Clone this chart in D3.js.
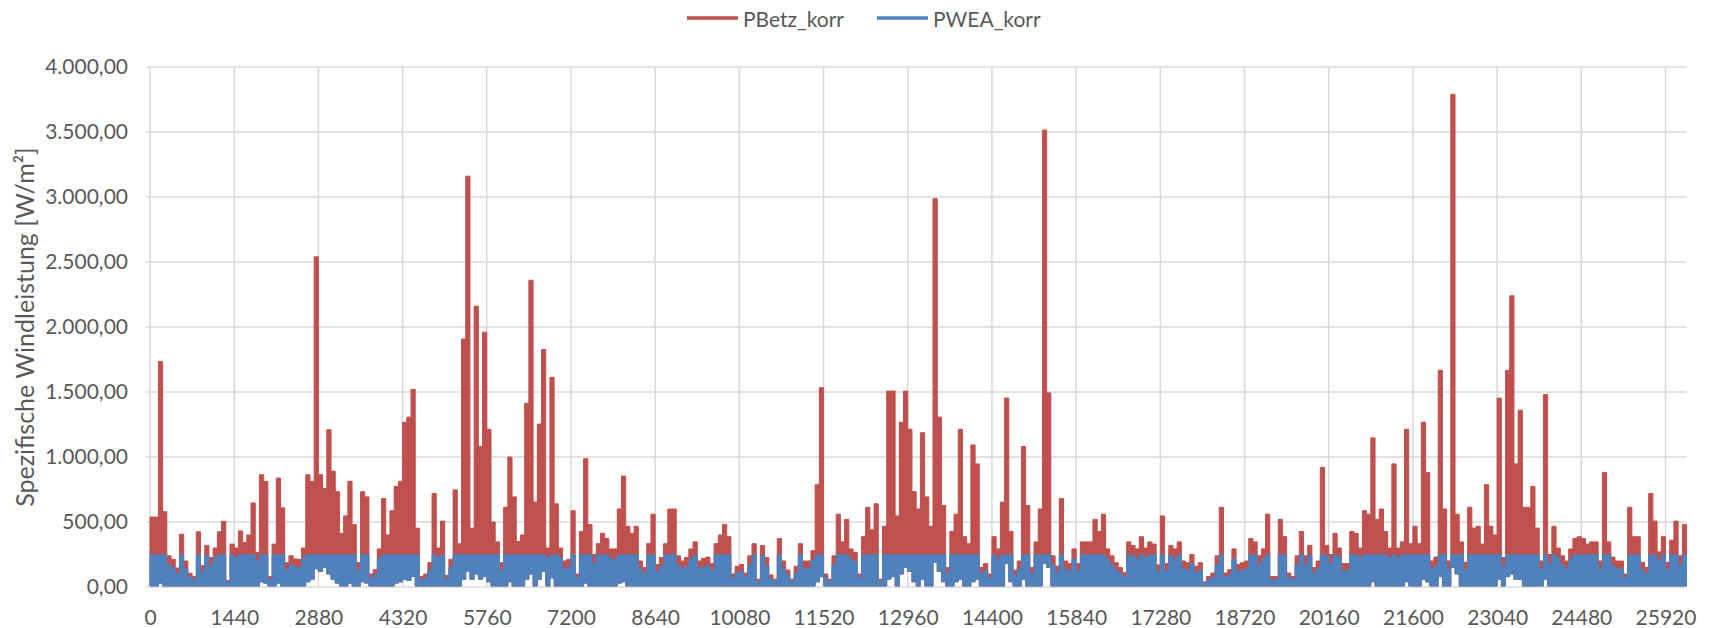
<!doctype html>
<html>
<head>
<meta charset="utf-8">
<script src="https://d3js.org/d3.v7.min.js"></script>
<style>
  body { margin: 0; background: #fff; }
  svg text { font-family: Lato, "Open Sans", sans-serif; fill: #595959; }
</style>
</head>
<body>
<svg width="1717" height="628"></svg>
<script>
// series / legend
var seriesNames = ["PBetz_korr", "PWEA_korr"];
var seriesColors = ["#C0504D", "#4F81BD"];

// x categories: 0 .. 26279, labelled every 1440
var pointCount = 26280;
var binSize = 72;
var xTickValues = [0, 1440, 2880, 4320, 5760, 7200, 8640, 10080, 11520, 12960,
                   14400, 15840, 17280, 18720, 20160, 21600, 23040, 24480, 25920];
var yTickValues = [0, 500, 1000, 1500, 2000, 2500, 3000, 3500, 4000];

// per block of 72 points: highest PBetz value
var pBetzMax = [
  538, 538, 1734, 579, 240, 213, 146, 406, 200, 106,
  80, 425, 165, 320, 226, 300, 425, 505, 50, 330,
  300, 431, 343, 400, 647, 266, 863, 812, 80, 330,
  838, 609, 186, 240, 216, 213, 300, 863, 812, 2540,
  864, 758, 1210, 891, 733, 413, 547, 813, 480, 187,
  733, 693, 100, 133, 293, 680, 400, 587, 773, 813,
  1267, 1307, 1520, 453, 80, 100, 187, 720, 300, 507,
  90, 213, 747, 333, 1907, 3160, 453, 2160, 1080, 1960,
  1213, 500, 347, 187, 613, 1000, 693, 350, 400, 1413,
  2360, 653, 1253, 1827, 300, 1613, 640, 300, 200, 213,
  587, 100, 427, 987, 480, 250, 333, 413, 373, 293,
  293, 600, 853, 467, 413, 467, 200, 150, 333, 560,
  173, 227, 333, 600, 600, 240, 200, 227, 293, 347,
  200, 220, 230, 180, 333, 400, 480, 387, 100, 160,
  173, 107, 240, 333, 60, 320, 227, 93, 60, 373,
  200, 130, 60, 160, 333, 200, 200, 280, 787, 1533,
  100, 60, 240, 560, 347, 520, 293, 267, 100, 387,
  613, 440, 640, 60, 467, 1507, 1507, 547, 1267, 1507,
  1213, 733, 600, 1187, 693, 467, 2987, 1307, 627, 150,
  427, 560, 1213, 387, 333, 1093, 947, 150, 180, 100,
  387, 293, 653, 1453, 427, 130, 200, 1080, 627, 150,
  347, 600, 3515, 1493, 240, 160, 680, 200, 180, 293,
  180, 347, 347, 347, 520, 427, 560, 293, 240, 187,
  150, 110, 347, 320, 293, 387, 300, 347, 330, 170,
  547, 180, 320, 293, 347, 200, 187, 250, 160, 187,
  40, 80, 107, 240, 613, 107, 133, 293, 173, 187,
  200, 373, 347, 240, 293, 560, 80, 80, 520, 387,
  107, 80, 240, 427, 240, 320, 150, 200, 920, 320,
  250, 413, 300, 180, 180, 427, 413, 300, 587, 560,
  1147, 520, 600, 427, 300, 947, 300, 347, 1213, 333,
  467, 333, 1267, 880, 200, 230, 1667, 600, 200, 3790,
  560, 347, 190, 613, 453, 467, 330, 787, 467, 400,
  1453, 227, 1667, 2240, 947, 1360, 613, 613, 773, 453,
  200, 1480, 250, 467, 300, 240, 200, 293, 373, 387,
  373, 330, 347, 347, 200, 880, 347, 230, 200, 200,
  100, 613, 387, 387, 190, 150, 720, 507, 270, 387,
  190, 360, 507, 240, 480
];

// per block: highest PWEA value
var pWeaMax = [
  248, 248, 248, 248, 170, 150, 100, 248, 140, 75,
  55, 248, 115, 240, 160, 225, 248, 248, 35, 248,
  225, 248, 248, 248, 248, 200, 248, 248, 55, 248,
  248, 248, 130, 170, 155, 150, 225, 248, 248, 248,
  248, 248, 248, 248, 248, 248, 248, 248, 248, 130,
  248, 248, 70, 95, 220, 248, 248, 248, 248, 248,
  248, 248, 248, 248, 55, 70, 130, 248, 225, 248,
  62, 150, 248, 248, 248, 248, 248, 248, 248, 248,
  248, 248, 248, 130, 248, 248, 248, 248, 248, 248,
  248, 248, 248, 248, 225, 248, 248, 225, 140, 150,
  248, 70, 248, 248, 248, 180, 248, 248, 248, 215,
  215, 248, 248, 248, 248, 248, 140, 105, 248, 248,
  120, 160, 248, 248, 248, 170, 140, 160, 215, 248,
  140, 155, 165, 125, 248, 248, 248, 248, 70, 110,
  120, 75, 170, 248, 40, 240, 160, 65, 40, 248,
  140, 90, 40, 110, 248, 140, 140, 205, 248, 248,
  70, 40, 170, 248, 248, 248, 215, 195, 70, 248,
  248, 248, 248, 40, 248, 248, 248, 248, 248, 248,
  248, 248, 248, 248, 248, 248, 248, 248, 248, 105,
  248, 248, 248, 248, 248, 248, 248, 105, 125, 70,
  248, 215, 248, 248, 248, 90, 140, 248, 248, 105,
  248, 248, 248, 248, 170, 110, 248, 140, 125, 215,
  125, 248, 248, 248, 248, 248, 248, 215, 170, 130,
  105, 77, 248, 240, 215, 248, 225, 248, 248, 120,
  248, 125, 240, 215, 248, 140, 130, 180, 110, 130,
  28, 55, 75, 170, 248, 75, 95, 215, 120, 130,
  140, 248, 248, 170, 215, 248, 55, 55, 248, 248,
  75, 55, 170, 248, 170, 240, 105, 140, 248, 240,
  180, 248, 225, 125, 125, 248, 248, 225, 248, 248,
  248, 248, 248, 248, 225, 248, 225, 248, 248, 248,
  248, 248, 248, 248, 140, 165, 248, 248, 140, 248,
  248, 248, 133, 248, 248, 248, 248, 248, 248, 248,
  248, 160, 248, 248, 248, 248, 248, 248, 248, 248,
  140, 248, 180, 248, 225, 170, 140, 215, 248, 248,
  248, 248, 248, 248, 140, 248, 248, 165, 140, 140,
  70, 248, 248, 248, 133, 105, 248, 248, 200, 248,
  133, 248, 248, 170, 248
];

// per block: lowest value reached (white gaps under the lines in windy spells)
var blockMin = [
  8, 8, 30, 8, 8, 8, 8, 8, 8, 8,
  8, 8, 8, 8, 8, 8, 8, 8, 8, 8,
  8, 8, 8, 8, 8, 8, 40, 30, 8, 8,
  30, 8, 8, 8, 8, 8, 8, 40, 60, 140,
  120, 150, 100, 60, 30, 8, 8, 30, 8, 8,
  40, 30, 8, 8, 8, 8, 8, 8, 30, 40,
  60, 50, 80, 8, 8, 8, 8, 8, 8, 8,
  8, 8, 8, 8, 60, 120, 60, 100, 60, 80,
  40, 8, 8, 8, 8, 40, 8, 8, 8, 60,
  100, 8, 60, 120, 8, 70, 8, 8, 8, 8,
  8, 8, 8, 30, 8, 8, 8, 8, 8, 8,
  8, 30, 40, 8, 8, 8, 8, 8, 8, 8,
  8, 8, 8, 8, 8, 8, 8, 8, 8, 8,
  8, 8, 8, 8, 8, 8, 8, 8, 8, 8,
  8, 8, 8, 8, 8, 8, 8, 8, 8, 8,
  8, 8, 8, 8, 8, 8, 8, 8, 40, 80,
  8, 8, 8, 8, 8, 8, 8, 8, 8, 8,
  8, 8, 8, 8, 8, 60, 80, 8, 100, 150,
  120, 40, 8, 60, 8, 8, 190, 120, 40, 8,
  8, 40, 60, 8, 8, 40, 60, 8, 8, 8,
  8, 8, 8, 180, 40, 8, 8, 60, 8, 8,
  8, 8, 180, 150, 8, 8, 8, 8, 8, 8,
  8, 8, 8, 8, 8, 8, 8, 8, 8, 8,
  8, 8, 8, 8, 8, 8, 8, 8, 8, 8,
  8, 8, 8, 8, 8, 8, 8, 8, 8, 8,
  8, 8, 8, 8, 8, 8, 8, 8, 8, 8,
  8, 8, 8, 8, 8, 8, 8, 8, 8, 8,
  8, 8, 8, 8, 8, 8, 8, 8, 8, 8,
  8, 8, 8, 8, 8, 8, 8, 8, 8, 8,
  40, 8, 8, 8, 8, 8, 8, 8, 40, 8,
  8, 8, 60, 40, 8, 8, 80, 8, 8, 150,
  100, 8, 8, 8, 8, 8, 8, 8, 8, 8,
  60, 8, 80, 100, 60, 60, 8, 8, 8, 8,
  8, 60, 8, 8, 8, 8, 8, 8, 8, 8,
  8, 8, 8, 8, 8, 8, 8, 8, 8, 8,
  8, 8, 8, 8, 8, 8, 8, 8, 8, 8,
  8, 8, 8, 8, 8
];

var svg = d3.select("svg"),
    plotLeft = 150, plotRight = 1686.5, plotTop = 67, plotBottom = 587;

var x = d3.scaleLinear().domain([0, pointCount - 1]).range([plotLeft, plotRight]);
var y = d3.scaleLinear().domain([0, 4000]).range([plotBottom, plotTop]);

var deFormat = d3.formatLocale({decimal: ",", thousands: ".", grouping: [3], currency: ["", " €"]}).format(",.2f");

// grid
svg.append("g").selectAll("line")
  .data(yTickValues).enter().append("line")
  .attr("x1", plotLeft - 4).attr("x2", plotRight)
  .attr("y1", function(d) { return y(d); }).attr("y2", function(d) { return y(d); })
  .attr("stroke", "#d9d9d9").attr("stroke-width", 1.5);

svg.append("g").selectAll("line")
  .data(xTickValues).enter().append("line")
  .attr("x1", function(d) { return x(d); }).attr("x2", function(d) { return x(d); })
  .attr("y1", plotTop).attr("y2", plotBottom)
  .attr("stroke", "#d9d9d9").attr("stroke-width", 1.5);

// each block becomes two points (start and end) so the band is flat-topped
var pts = [];
pBetzMax.forEach(function(v, i) {
  var s = i * binSize, e = Math.min((i + 1) * binSize, pointCount - 1);
  pts.push({i: s, betz: v, wea: pWeaMax[i], lo: blockMin[i]});
  pts.push({i: e, betz: v, wea: pWeaMax[i], lo: blockMin[i]});
});

var betzArea = d3.area()
  .x(function(d) { return x(d.i); })
  .y0(function(d) { return y(d.lo); })
  .y1(function(d) { return y(d.betz); });

var weaArea = d3.area()
  .x(function(d) { return x(d.i); })
  .y0(function(d) { return y(d.lo); })
  .y1(function(d) { return y(d.wea); });

svg.append("path").datum(pts)
  .attr("d", betzArea)
  .attr("fill", seriesColors[0]).attr("stroke", seriesColors[0]).attr("stroke-width", 1);

svg.append("path").datum(pts)
  .attr("d", weaArea)
  .attr("fill", seriesColors[1]).attr("stroke", seriesColors[1]).attr("stroke-width", 1);

// axes (labels only)
var yAxis = svg.append("g")
  .attr("transform", "translate(" + plotLeft + ",0)")
  .call(d3.axisLeft(y).tickValues(yTickValues).tickFormat(deFormat).tickSize(0).tickPadding(22));
yAxis.select(".domain").remove();
yAxis.selectAll("text").attr("font-size", 21).attr("font-family", "Lato").attr("fill", "#595959");

var xAxis = svg.append("g")
  .attr("transform", "translate(0," + plotBottom + ")")
  .call(d3.axisBottom(x).tickValues(xTickValues).tickFormat(d3.format("d")).tickSize(0).tickPadding(23));
xAxis.select(".domain").remove();
xAxis.selectAll("text").attr("font-size", 21).attr("font-family", "Lato").attr("fill", "#595959");

// y title
svg.append("text")
  .attr("transform", "translate(24," + ((plotTop + plotBottom) / 2) + ") rotate(-90)")
  .attr("text-anchor", "middle")
  .attr("dominant-baseline", "central")
  .attr("font-size", 25)
  .text("Spezifische Windleistung [W/m²]");

// legend
var legendPos = [{lx: 687, tx: 743}, {lx: 877, tx: 933}];
var legend = svg.append("g").selectAll("g")
  .data(seriesNames).enter().append("g");
legend.append("line")
  .attr("x1", function(d, i) { return legendPos[i].lx; })
  .attr("x2", function(d, i) { return legendPos[i].lx + 51; })
  .attr("y1", 18).attr("y2", 18)
  .attr("stroke", function(d, i) { return seriesColors[i]; })
  .attr("stroke-width", 3.5);
legend.append("text")
  .attr("x", function(d, i) { return legendPos[i].tx; })
  .attr("y", 18)
  .attr("dominant-baseline", "central")
  .attr("font-size", 21)
  .text(function(d) { return d; });
</script>
</body>
</html>
